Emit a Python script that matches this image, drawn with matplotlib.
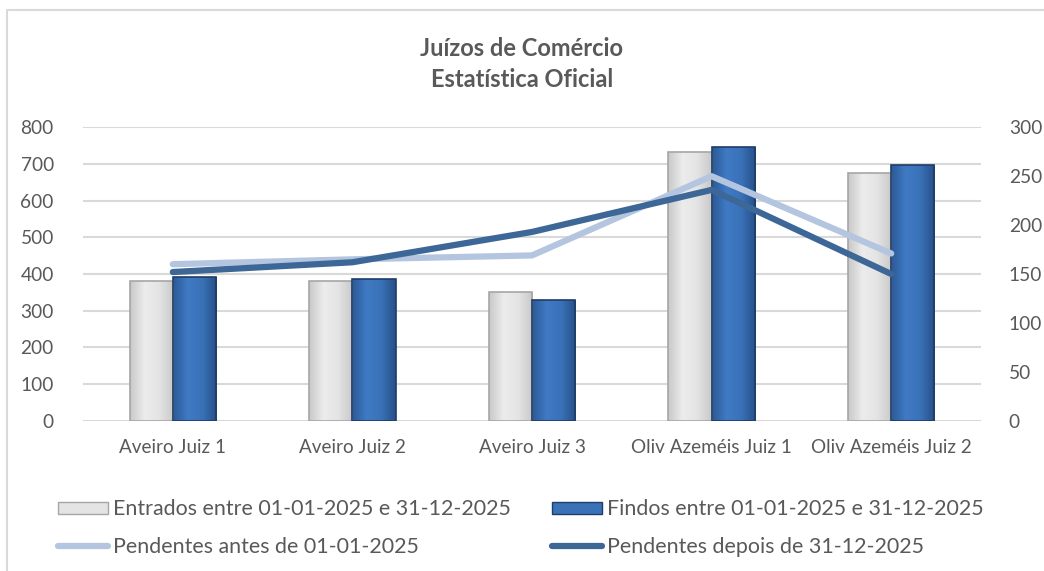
import numpy as np
import matplotlib
matplotlib.use("Agg")
import matplotlib.pyplot as plt
from matplotlib.colors import LinearSegmentedColormap
from matplotlib.lines import Line2D
from matplotlib.patches import Patch

plt.rcParams['font.family'] = ['Lato', 'DejaVu Sans']

categories = ['Aveiro Juiz 1', 'Aveiro Juiz 2', 'Aveiro Juiz 3',
              'Oliv Azeméis Juiz 1', 'Oliv Azeméis Juiz 2']
entrados = [382, 380, 352, 734, 676]
findos = [392, 387, 328, 747, 697]
pend_antes = [160, 165, 169, 250, 171]
pend_depois = [152, 162, 193, 236, 150]

lbl_entrados = 'Entrados entre 01-01-2025 e 31-12-2025'
lbl_findos = 'Findos entre 01-01-2025 e 31-12-2025'
lbl_antes = 'Pendentes antes de 01-01-2025'
lbl_depois = 'Pendentes depois de 31-12-2025'

txt = '#595959'
grid_c = '#d9d9d9'
c_light = '#b4c5df'
c_dark = '#3c6797'

cm_grey = LinearSegmentedColormap.from_list('g', ['#c9c9c9', '#ececec', '#e4e4e4', '#c9c9c9'])
cm_blue = LinearSegmentedColormap.from_list('b', ['#2c5a97', '#3f7ac4', '#3a72b8', '#27508a'])

fig = plt.figure(figsize=(10.44, 5.71), dpi=100)
ax = fig.add_axes([83/1044, 1-420.7/571, (981-83)/1044, (420.7-127.3)/571])
ax2 = ax.twinx()

x = np.arange(len(categories))
w = 0.24
grad = np.linspace(0, 1, 64).reshape(1, -1)


def grad_bars(xs, hs, cmap, edge):
    bars = ax.bar(xs, hs, w, color='none', edgecolor='none', zorder=2)
    for b, xx, hh in zip(bars, xs, hs):
        im = ax.imshow(grad, extent=[xx - w/2, xx + w/2, 0, hh], aspect='auto',
                       cmap=cmap, zorder=2, interpolation='bicubic')
        im.set_clip_path(b)
    ax.bar(xs, hs, w, color='none', edgecolor=edge, linewidth=1.2, zorder=3)


grad_bars(x - w/2, entrados, cm_grey, '#a6a6a6')
grad_bars(x + w/2, findos, cm_blue, '#1f3d66')

ax.set_xlim(-0.5, len(categories) - 0.5)
ax.set_ylim(0, 800)
ax.set_yticks(range(0, 801, 100))
ax.yaxis.grid(True, color=grid_c, linewidth=1.5, zorder=0)
ax.set_axisbelow(True)
ax.set_xticks(x)
ax.set_xticklabels(categories, fontsize=13.6, color=txt)
ax.tick_params(axis='x', length=0, pad=13)
ax.tick_params(axis='y', length=0, pad=21, labelsize=13.8, labelcolor=txt)
for s in ax.spines.values():
    s.set_visible(False)

ax2.plot(x, pend_antes, color=c_light, linewidth=4.5, solid_capstyle='round',
         solid_joinstyle='round', zorder=4)
ax2.plot(x, pend_depois, color=c_dark, linewidth=4.5, solid_capstyle='round',
         solid_joinstyle='round', zorder=5)
ax2.set_ylim(0, 300)
ax2.set_yticks(range(0, 301, 50))
ax2.tick_params(axis='y', length=0, pad=20, labelsize=13.8, labelcolor=txt)
for s in ax2.spines.values():
    s.set_visible(False)

fig.text(0.5, 1-64/571, 'Juízos de Comércio\nEstatística Oficial', ha='center', va='center',
         fontsize=17, fontweight='bold', color=txt, linespacing=1.45)

# chart border (top and left only visible in crop)
fig.add_artist(Line2D([7/1044, 7/1044, 1.01], [-0.01, 1-10/571, 1-10/571],
                      transform=fig.transFigure, color=grid_c, linewidth=1.5))

handles = [Patch(facecolor='#e4e4e4', edgecolor='#a6a6a6'),
           Line2D([], [], color=c_light, linewidth=4.5, solid_capstyle='round'),
           Patch(facecolor='#3a72b8', edgecolor='#1f3d66'),
           Line2D([], [], color=c_dark, linewidth=4.5, solid_capstyle='round')]
labels = [lbl_entrados, lbl_antes, lbl_findos, lbl_depois]
leg = fig.legend(handles, labels, ncol=2, loc='center', bbox_to_anchor=(0.499, 1-528/571),
                 frameon=False, fontsize=15.4, handlelength=2.34, handletextpad=0.23,
                 handleheight=0.45, columnspacing=1.92, labelspacing=0.8)
for t in leg.get_texts():
    t.set_color(txt)

fig.savefig('out.png', dpi=100)
